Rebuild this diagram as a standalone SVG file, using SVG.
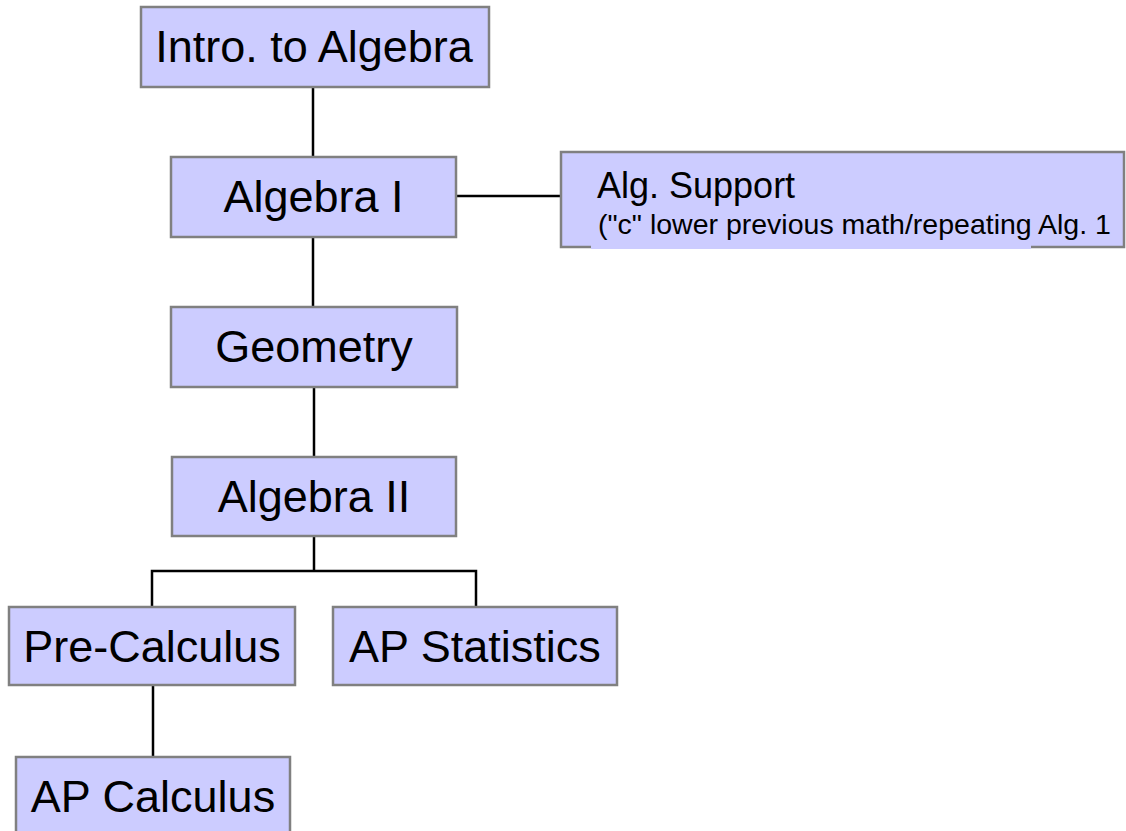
<svg xmlns="http://www.w3.org/2000/svg" width="1126" height="831" viewBox="0 0 1126 831">
<style>
.box{fill:#ccccff;stroke:#808080;stroke-width:2.5}
.lbl{font-family:"Liberation Sans",Arial,sans-serif;font-size:45px;fill:#000;text-anchor:middle}
.sub{font-family:"Liberation Sans",Arial,sans-serif;fill:#000}
.conn{stroke:#000;stroke-width:2.5;fill:none}
</style>
<rect width="1126" height="831" fill="#fff"/>
<g id="connectors">
<line class="conn" x1="313" y1="87" x2="313" y2="157"/>
<line class="conn" x1="456" y1="196" x2="561" y2="196"/>
<line class="conn" x1="313" y1="237" x2="313" y2="307"/>
<line class="conn" x1="314" y1="387" x2="314" y2="457"/>
<polyline class="conn" points="314,536 314,571"/>
<polyline class="conn" points="152,607 152,571 476,571 476,607"/>
<line class="conn" x1="153" y1="685" x2="153" y2="757"/>
</g>
<g id="intro">
<rect class="box" x="141" y="7" width="348" height="80"/>
<text class="lbl" x="314" y="62">Intro. to Algebra</text>
</g>
<g id="algebra1">
<rect class="box" x="171" y="157" width="285" height="80"/>
<text class="lbl" x="313.5" y="212">Algebra I</text>
</g>
<g id="algsupport">
<rect class="box" x="561" y="152" width="563" height="95"/>
<rect x="591" y="244" width="440" height="5" fill="#ccccff"/>
<text class="sub" x="597" y="198" font-size="36">Alg. Support</text>
<text class="sub" x="598" y="234" font-size="28.5">("c" lower previous math/repeating Alg. 1</text>
</g>
<g id="geometry">
<rect class="box" x="171" y="307" width="286" height="80"/>
<text class="lbl" x="314" y="362">Geometry</text>
</g>
<g id="algebra2">
<rect class="box" x="172" y="457" width="284" height="79"/>
<text class="lbl" x="314" y="512">Algebra II</text>
</g>
<g id="precalc">
<rect class="box" x="9" y="607" width="286" height="78"/>
<text class="lbl" x="152" y="662">Pre-Calculus</text>
</g>
<g id="apstat">
<rect class="box" x="333" y="607" width="284" height="78"/>
<text class="lbl" x="475" y="662">AP Statistics</text>
</g>
<g id="apcalc">
<rect class="box" x="16" y="757" width="274" height="84"/>
<text class="lbl" x="153" y="812">AP Calculus</text>
</g>
</svg>
